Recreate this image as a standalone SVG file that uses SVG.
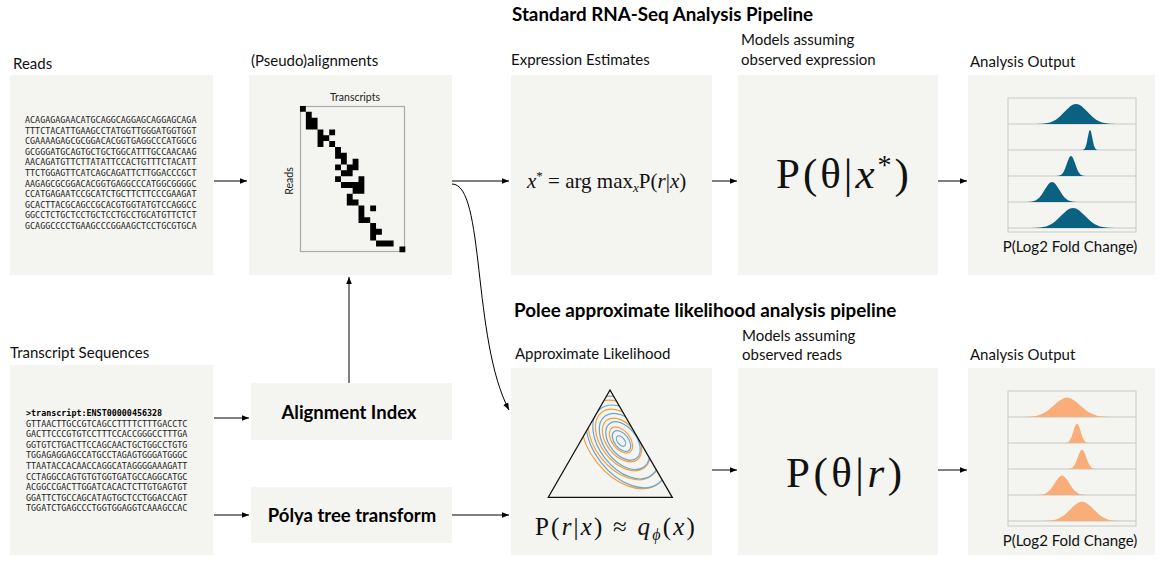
<svg xmlns="http://www.w3.org/2000/svg" width="1164" height="569" viewBox="0 0 1164 569">
<style>
.panel{fill:#f4f4f0}
.lbl{font-family:Lato,"Open Sans",sans-serif;font-size:15px;fill:#111}
.hdr{font-family:Lato,"Open Sans",sans-serif;font-size:18.8px;font-weight:bold;fill:#000}
.node{font-family:Lato,"Open Sans",sans-serif;font-size:18.5px;font-weight:bold;fill:#000}
.seq{font-family:"DejaVu Sans Mono","Liberation Mono",monospace;font-size:8.4px;fill:#222}
.math{font-family:"Liberation Serif","DejaVu Serif",serif;fill:#111}
.small{font-family:Lato,"Open Sans",sans-serif;font-size:10.5px;fill:#222}
.conn{fill:none;stroke:#000;stroke-width:1}
.axis{fill:none;stroke:#c8c8c4;stroke-width:1}
.blue{fill:#0b6182}
.orange{fill:#f9ae7a}
.co{fill:none;stroke:#f5a136;stroke-width:1.2}
.cb{fill:none;stroke:#6aa4d8;stroke-width:1.2}
</style>
<defs>
<marker id="arr" viewBox="0 0 10 10" refX="10" refY="5" markerWidth="7" markerHeight="7" orient="auto" markerUnits="userSpaceOnUse">
<path d="M0,1 L10,5 L0,9 z" fill="#000"/>
</marker>
<path id="gauss" d="M-3.5,0 L-3,-0.22 L-2.75,-0.46 L-2.5,-0.88 L-2.25,-1.59 L-2,-2.71 L-1.75,-4.33 L-1.5,-6.49 L-1.25,-9.16 L-1,-12.13 L-0.75,-15.1 L-0.5,-17.65 L-0.25,-19.38 L0,-20 L0.25,-19.38 L0.5,-17.65 L0.75,-15.1 L1,-12.13 L1.25,-9.16 L1.5,-6.49 L1.75,-4.33 L2,-2.71 L2.25,-1.59 L2.5,-0.88 L2.75,-0.46 L3,-0.22 L3.5,0 z"/>
<clipPath id="tri"><path d="M610,390 L548.3,497.3 L672.3,497.3 z"/></clipPath>
</defs>
<rect width="1164" height="569" fill="#fff"/>

<text class="hdr" x="512" y="21">Standard RNA-Seq Analysis Pipeline</text>
<text class="hdr" x="514" y="317">Polee approximate likelihood analysis pipeline</text>

<g id="reads">
<rect class="panel" x="10" y="75" width="203" height="200"/>
<text class="lbl" x="13" y="69">Reads</text>
<text class="seq" x="25" y="123">
<tspan x="25" dy="0">ACAGAGAGAACATGCAGGCAGGAGCAGGAGCAGA</tspan>
<tspan x="25" dy="10.6">TTTCTACATTGAAGCCTATGGTTGGGATGGTGGT</tspan>
<tspan x="25" dy="10.6">CGAAAAGAGCGCGGACACGGTGAGGCCCATGGCG</tspan>
<tspan x="25" dy="10.6">GCGGGATGCAGTGCTGCTGGCATTTGCCAACAAG</tspan>
<tspan x="25" dy="10.6">AACAGATGTTCTTATATTCCACTGTTTCTACATT</tspan>
<tspan x="25" dy="10.6">TTCTGGAGTTCATCAGCAGATTCTTGGACCCGCT</tspan>
<tspan x="25" dy="10.6">AAGAGCGCGGACACGGTGAGGCCCATGGCGGGGC</tspan>
<tspan x="25" dy="10.6">CCATGAGAATCCGCATCTGCTTCTTCCCGAAGAT</tspan>
<tspan x="25" dy="10.6">GCACTTACGCAGCCGCACGTGGTATGTCCAGGCC</tspan>
<tspan x="25" dy="10.6">GGCCTCTGCTCCTGCTCCTGCCTGCATGTTCTCT</tspan>
<tspan x="25" dy="10.6">GCAGGCCCCTGAAGCCCGGAAGCTCCTGCGTGCA</tspan>
</text>
</g>

<g id="alignments">
<rect class="panel" x="249" y="75" width="203" height="200"/>
<text class="lbl" x="251" y="66">(Pseudo)alignments</text>
<text class="small" x="355" y="101" text-anchor="middle">Transcripts</text>
<text class="small" x="293" y="181" text-anchor="middle" transform="rotate(-90 293 181)">Reads</text>
<rect x="300.5" y="106.5" width="104" height="145" fill="none" stroke="#aaa" stroke-width="1.2"/>
<g transform="translate(300,106) scale(5.85)" fill="#000">
<path d="M0,0h1v1h-1z M1,1h1v1h-1z M1,2h2v2h-2z M3,4h1v3h-1z M5,4h1v1h-1z M4,5h1v1h-1z M5,6h1v1h-1z M6,7h1v2h-1z M7,8h1v2h-1z M9,9h1v2h-1z M6,10h1v1h-1z M8,10h1v1h-1z M7,11h2v1h-2z M6,12h1v1h-1z M10,12h1v3h-1z M7,13h3v1h-3z M9,14h1v1h-1z M8,15h1v2h-1z M9,16h1v1h-1z M10,17h1v3h-1z M12,17h1v1h-1z M11,19h1v1h-1z M12,20h1v3h-1z M13,21h1v1h-1z M13,23h3v1h-3z M17,24h1v1h-1z"/>
</g>
</g>

<g id="expression">
<rect class="panel" x="511" y="75" width="201" height="200"/>
<text class="lbl" x="511" y="65">Expression Estimates</text>
<text class="math" x="527" y="188" font-size="21"><tspan font-style="italic">x</tspan><tspan font-size="13" dy="-8">*</tspan><tspan dy="8"> = arg max</tspan><tspan font-style="italic" font-size="13" dy="4">x</tspan><tspan dy="-4">P(</tspan><tspan font-style="italic">r</tspan>|<tspan font-style="italic">x</tspan>)</text>
</g>

<g id="models-expr">
<rect class="panel" x="738" y="75" width="200" height="200"/>
<text class="lbl" x="741" y="45">Models assuming</text>
<text class="lbl" x="741" y="65">observed expression</text>
<text class="math" x="776" y="188" font-size="43" letter-spacing="3">P(θ|<tspan font-style="italic">x</tspan><tspan font-size="28" dy="-14">*</tspan><tspan dy="14">)</tspan></text>
</g>

<g id="output-top">
<rect class="panel" x="968" y="75" width="187" height="200"/>
<text class="lbl" x="970" y="67">Analysis Output</text>
<rect class="axis" x="1008" y="98" width="128" height="134"/>
<line class="axis" x1="1008" y1="124" x2="1136" y2="124"/>
<line class="axis" x1="1008" y1="150" x2="1136" y2="150"/>
<line class="axis" x1="1008" y1="176" x2="1136" y2="176"/>
<line class="axis" x1="1008" y1="202" x2="1136" y2="202"/>
<line class="axis" x1="1008" y1="228" x2="1136" y2="228"/>
<use href="#gauss" class="blue" transform="translate(1076,124) scale(11.5,1)"/>
<use href="#gauss" class="blue" transform="translate(1090,150) scale(2.3,1)"/>
<use href="#gauss" class="blue" transform="translate(1071,176) scale(4.2,1)"/>
<use href="#gauss" class="blue" transform="translate(1052,202) scale(7.3,1)"/>
<use href="#gauss" class="blue" transform="translate(1073,228) scale(12,1)"/>
<text class="lbl" x="1070" y="252" font-size="16.5" text-anchor="middle">P(Log2 Fold Change)</text>
</g>

<g id="transcripts">
<rect class="panel" x="10" y="365" width="203" height="190"/>
<text class="lbl" x="10" y="358">Transcript Sequences</text>
<text class="seq" x="26" y="416">
<tspan x="26" dy="0" font-weight="bold" fill="#000">&gt;transcript:ENST00000456328</tspan>
<tspan x="26" dy="10.6">GTTAACTTGCCGTCAGCCTTTTCTTTGACCTC</tspan>
<tspan x="26" dy="10.6">GACTTCCCGTGTCCTTTCCACCGGGCCTTTGA</tspan>
<tspan x="26" dy="10.6">GGTGTCTGACTTCCAGCAACTGCTGGCCTGTG</tspan>
<tspan x="26" dy="10.6">TGGAGAGGAGCCATGCCTAGAGTGGGATGGGC</tspan>
<tspan x="26" dy="10.6">TTAATACCACAACCAGGCATAGGGGAAAGATT</tspan>
<tspan x="26" dy="10.6">CCTAGGCCAGTGTGTGGTGATGCCAGGCATGC</tspan>
<tspan x="26" dy="10.6">ACGGCCGACTTGGATCACACTCTTGTGAGTGT</tspan>
<tspan x="26" dy="10.6">GGATTCTGCCAGCATAGTGCTCCTGGACCAGT</tspan>
<tspan x="26" dy="10.6">TGGATCTGAGCCCTGGTGGAGGTCAAAGCCAC</tspan>
</text>
</g>

<g id="alignment-index">
<rect class="panel" x="251" y="383" width="201" height="57"/>
<text class="node" x="349" y="419" text-anchor="middle">Alignment Index</text>
</g>

<g id="polya">
<rect class="panel" x="251" y="487" width="201" height="56"/>
<text class="node" x="352" y="522" text-anchor="middle">Pólya tree transform</text>
</g>

<g id="approx">
<rect class="panel" x="511" y="368" width="201" height="187"/>
<text class="lbl" x="515" y="359">Approximate Likelihood</text>
<g clip-path="url(#tri)">
<ellipse class="co" cx="625" cy="440" rx="55" ry="36" transform="rotate(52 625 440)"/>
<ellipse class="cb" cx="627" cy="442" rx="52" ry="33" transform="rotate(52 627 442)"/>
<ellipse class="co" cx="624" cy="440" rx="45" ry="29" transform="rotate(52 624 440)"/>
<ellipse class="cb" cx="626" cy="442" rx="42" ry="26.5" transform="rotate(52 626 442)"/>
<ellipse class="co" cx="623" cy="440" rx="35" ry="22" transform="rotate(52 623 440)"/>
<ellipse class="cb" cx="624.5" cy="441.5" rx="32" ry="20" transform="rotate(52 624.5 441.5)"/>
<ellipse class="co" cx="622" cy="440" rx="25" ry="15.5" transform="rotate(52 622 440)"/>
<ellipse class="cb" cx="623" cy="441" rx="22" ry="13.5" transform="rotate(52 623 441)"/>
<ellipse class="co" cx="621" cy="440" rx="15" ry="9" transform="rotate(52 621 440)"/>
<ellipse class="cb" cx="621.5" cy="441" rx="12" ry="7" transform="rotate(52 621.5 441)"/>
<ellipse class="cb" cx="621" cy="441" rx="6" ry="3.5" transform="rotate(52 621 441)"/>
</g>
<path d="M610,390 L548.3,497.3 L672.3,497.3 z" fill="none" stroke="#111" stroke-width="1.3"/>
<text class="math" x="535" y="535" font-size="25" letter-spacing="2.2">P(<tspan font-style="italic">r</tspan>|<tspan font-style="italic">x</tspan>) ≈ <tspan font-style="italic">q</tspan><tspan font-style="italic" font-size="16" dy="5">ϕ</tspan><tspan dy="-5">(</tspan><tspan font-style="italic">x</tspan>)</text>
</g>

<g id="models-reads">
<rect class="panel" x="738" y="368" width="200" height="187"/>
<text class="lbl" x="742" y="341">Models assuming</text>
<text class="lbl" x="742" y="360">observed reads</text>
<text class="math" x="786" y="487" font-size="43" letter-spacing="3.5">P(θ|<tspan font-style="italic">r</tspan>)</text>
</g>

<g id="output-bottom">
<rect class="panel" x="968" y="368" width="187" height="187"/>
<text class="lbl" x="970" y="360">Analysis Output</text>
<rect class="axis" x="1008" y="391" width="128" height="135"/>
<line class="axis" x1="1008" y1="417" x2="1136" y2="417"/>
<line class="axis" x1="1008" y1="443" x2="1136" y2="443"/>
<line class="axis" x1="1008" y1="469" x2="1136" y2="469"/>
<line class="axis" x1="1008" y1="495" x2="1136" y2="495"/>
<line class="axis" x1="1008" y1="521" x2="1136" y2="521"/>
<use href="#gauss" class="orange" transform="translate(1067,417) scale(13,0.97)"/>
<use href="#gauss" class="orange" transform="translate(1077,443) scale(3.6,0.97)"/>
<use href="#gauss" class="orange" transform="translate(1082,469) scale(4.2,0.97)"/>
<use href="#gauss" class="orange" transform="translate(1062,495) scale(7.3,0.97)"/>
<use href="#gauss" class="orange" transform="translate(1082,521) scale(11.5,0.97)"/>
<text class="lbl" x="1070" y="546" font-size="16.5" text-anchor="middle">P(Log2 Fold Change)</text>
</g>

<g id="connectors">
<line class="conn" x1="214" y1="181" x2="247" y2="181" marker-end="url(#arr)"/>
<line class="conn" x1="452" y1="181" x2="509" y2="181" marker-end="url(#arr)"/>
<line class="conn" x1="712" y1="181" x2="737" y2="181" marker-end="url(#arr)"/>
<line class="conn" x1="938" y1="181" x2="967" y2="181" marker-end="url(#arr)"/>
<path class="conn" d="M452,184 C485,184 472,340 509,410" marker-end="url(#arr)"/>
<line class="conn" x1="349" y1="383" x2="349" y2="277" marker-end="url(#arr)"/>
<line class="conn" x1="214" y1="418" x2="249" y2="418" marker-end="url(#arr)"/>
<line class="conn" x1="214" y1="515" x2="249" y2="515" marker-end="url(#arr)"/>
<line class="conn" x1="452" y1="515" x2="509" y2="515" marker-end="url(#arr)"/>
<line class="conn" x1="712" y1="470" x2="737" y2="470" marker-end="url(#arr)"/>
<line class="conn" x1="938" y1="470" x2="967" y2="470" marker-end="url(#arr)"/>
</g>
</svg>
